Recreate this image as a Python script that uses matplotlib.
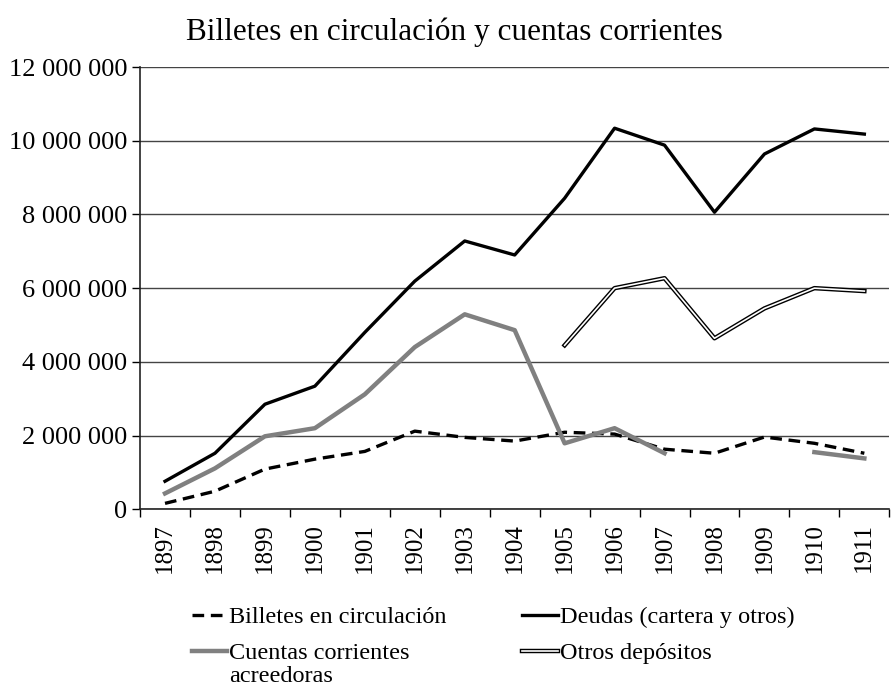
import numpy as np
import matplotlib
matplotlib.use("Agg")
import matplotlib.pyplot as plt
from matplotlib.ticker import FuncFormatter, FixedLocator

plt.rcParams['font.family'] = ['Liberation Serif', 'DejaVu Serif']

# Data
years = [str(y) for y in range(1897, 1912)]
billetes = [0.16e6, 0.49e6, 1.09e6, 1.36e6, 1.57e6, 2.12e6, 1.95e6, 1.85e6,
            2.09e6, 2.04e6, 1.63e6, 1.52e6, 1.96e6, 1.79e6, 1.52e6]
deudas = [0.76e6, 1.52e6, 2.85e6, 3.34e6, 4.8e6, 6.19e6, 7.28e6, 6.9e6,
          8.44e6, 10.34e6, 9.88e6, 8.06e6, 9.64e6, 10.32e6, 10.18e6]
cuentas = [0.43e6, 1.11e6, 1.98e6, 2.2e6, 3.12e6, 4.4e6, 5.29e6, 4.86e6,
           1.79e6, 2.2e6, 1.52e6, np.nan, np.nan, 1.55e6, 1.38e6]
otros = [np.nan] * 8 + [4.45e6, 6.0e6, 6.27e6, 4.64e6, 5.45e6, 6.0e6, 5.92e6]

x = np.arange(len(years))

fig = plt.figure(figsize=(8.92, 6.91), dpi=100)
ax = fig.add_axes([0.157, 0.263, 0.84, 0.64])

# gridlines
ax.yaxis.grid(True, color='#444444', linewidth=1.0)
ax.set_axisbelow(True)

l_bil, = ax.plot(x, billetes, color='black', lw=2.4, ls=(0, (3.5, 2)))
l_deu, = ax.plot(x, deudas, color='black', lw=2.4)
l_cue, = ax.plot(x, cuentas, color='#808080', lw=3.2)
l_ot1, = ax.plot(x, otros, color='black', lw=3.2)
l_ot2, = ax.plot(x, otros, color='white', lw=1.2)

ax.set_xlim(-0.5, len(years) - 0.5)
ax.set_ylim(0, 12e6)
ax.set_yticks(np.arange(0, 12e6 + 1, 2e6))
ax.yaxis.set_major_formatter(FuncFormatter(lambda v, p: f"{v:,.0f}".replace(",", " ")))
ax.tick_params(axis='y', length=6, width=1, labelsize=19, pad=3)

ax.set_xticks(x)
ax.set_xticklabels(years, rotation=90)
ax.xaxis.set_minor_locator(FixedLocator(np.arange(-0.5, len(years), 1)))
ax.tick_params(axis='x', which='major', length=0, labelsize=18, pad=10)
ax.tick_params(axis='x', which='minor', length=6, width=1)

for s in ['top', 'right']:
    ax.spines[s].set_visible(False)
for s in ['left', 'bottom']:
    ax.spines[s].set_linewidth(1.2)
    ax.spines[s].set_color('#222222')

fig.text(0.509, 0.953, "Billetes en circulación y cuentas corrientes",
         ha='center', va='center', fontsize=22.5)

leg = fig.legend([l_bil, l_cue, l_deu, (l_ot1, l_ot2)],
                 ["Billetes en circulación", "Cuentas corrientes",
                  "Deudas (cartera y otros)", "Otros depósitos"],
                 ncol=2, loc='upper left', bbox_to_anchor=(0.215, 0.123),
                 frameon=False, fontsize=17.5, handlelength=1.45, handletextpad=0.1,
                 columnspacing=3.1, labelspacing=0.58, borderpad=0, borderaxespad=0)

# second line of the "Cuentas corrientes" label
fig.canvas.draw()
t = leg.get_texts()[1]
bb = t.get_window_extent()
x0, y0 = fig.transFigure.inverted().transform((bb.x0, max(bb.y0 - 23, 3)))
fig.text(x0, y0, "acreedoras", ha='left', va='bottom', fontsize=17.5)

fig.savefig("out.png", dpi=100)
